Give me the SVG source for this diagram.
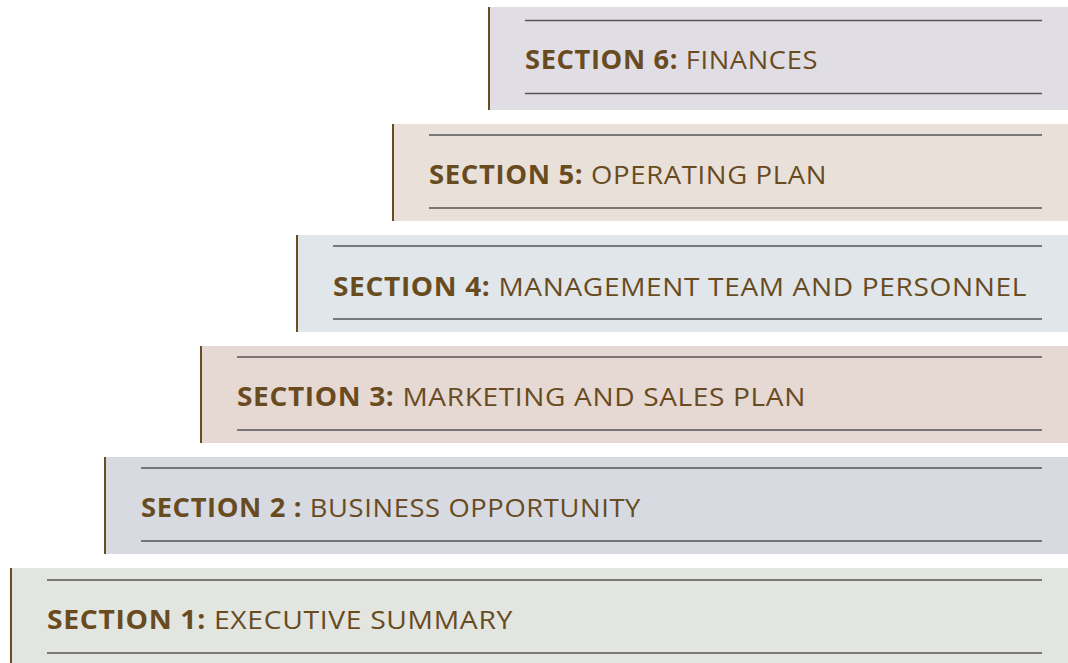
<svg xmlns="http://www.w3.org/2000/svg" width="1068" height="663" viewBox="0 0 1068 663">
<style>
.bar{fill:#6b4c1e}
.ln{stroke:#555;stroke-width:1.4}
.t{font-family:"Open Sans","Noto Sans","Liberation Sans",sans-serif;font-size:26px;fill:#684b1f;letter-spacing:0.6px;font-weight:500}
.b{font-weight:bold}
</style>
<rect width="1068" height="663" fill="#ffffff"/>
<g id="section6">
<rect x="488" y="7" width="580" height="103" fill="#e0dde4"/>
<rect class="bar" x="488" y="7" width="2" height="103"/>
<line class="ln" x1="525" y1="20.5" x2="1042" y2="20.5"/>
<line class="ln" x1="525" y1="93.5" x2="1042" y2="93.5"/>
<text class="t" x="525" y="69" textLength="293" lengthAdjust="spacingAndGlyphs"><tspan class="b">SECTION 6:</tspan> FINANCES</text>
</g>
<g id="section5">
<rect x="392" y="124" width="676" height="97" fill="#e9e1d9"/>
<rect class="bar" x="392" y="124" width="2" height="97"/>
<line class="ln" x1="429" y1="135" x2="1042" y2="135"/>
<line class="ln" x1="429" y1="208" x2="1042" y2="208"/>
<text class="t" x="429" y="184" textLength="398" lengthAdjust="spacingAndGlyphs"><tspan class="b">SECTION 5:</tspan> OPERATING PLAN</text>
</g>
<g id="section4">
<rect x="296" y="235" width="772" height="97" fill="#e1e6ea"/>
<rect class="bar" x="296" y="235" width="2" height="97"/>
<line class="ln" x1="333" y1="246" x2="1042" y2="246"/>
<line class="ln" x1="333" y1="319" x2="1042" y2="319"/>
<text class="t" x="333" y="296" textLength="694" lengthAdjust="spacingAndGlyphs"><tspan class="b">SECTION 4:</tspan> MANAGEMENT TEAM AND PERSONNEL</text>
</g>
<g id="section3">
<rect x="200" y="346" width="868" height="97" fill="#e6d8d3"/>
<rect class="bar" x="200" y="346" width="2" height="97"/>
<line class="ln" x1="237" y1="357" x2="1042" y2="357"/>
<line class="ln" x1="237" y1="430" x2="1042" y2="430"/>
<text class="t" x="237" y="406" textLength="569" lengthAdjust="spacingAndGlyphs"><tspan class="b">SECTION 3:</tspan> MARKETING AND SALES PLAN</text>
</g>
<g id="section2">
<rect x="104" y="457" width="964" height="97" fill="#d7dae1"/>
<rect class="bar" x="104" y="457" width="2" height="97"/>
<line class="ln" x1="141" y1="468" x2="1042" y2="468"/>
<line class="ln" x1="141" y1="541" x2="1042" y2="541"/>
<text class="t" x="141" y="517" textLength="500" lengthAdjust="spacingAndGlyphs"><tspan class="b">SECTION 2 :</tspan> BUSINESS OPPORTUNITY</text>
</g>
<g id="section1">
<rect x="10" y="568" width="1058" height="95" fill="#e3e5e0"/>
<rect class="bar" x="10" y="568" width="2" height="95"/>
<line class="ln" x1="47" y1="580" x2="1042" y2="580"/>
<line class="ln" x1="47" y1="653" x2="1042" y2="653"/>
<text class="t" x="47" y="629" textLength="466" lengthAdjust="spacingAndGlyphs"><tspan class="b">SECTION 1:</tspan> EXECUTIVE SUMMARY</text>
</g>
<g id="connectors"/>
</svg>
